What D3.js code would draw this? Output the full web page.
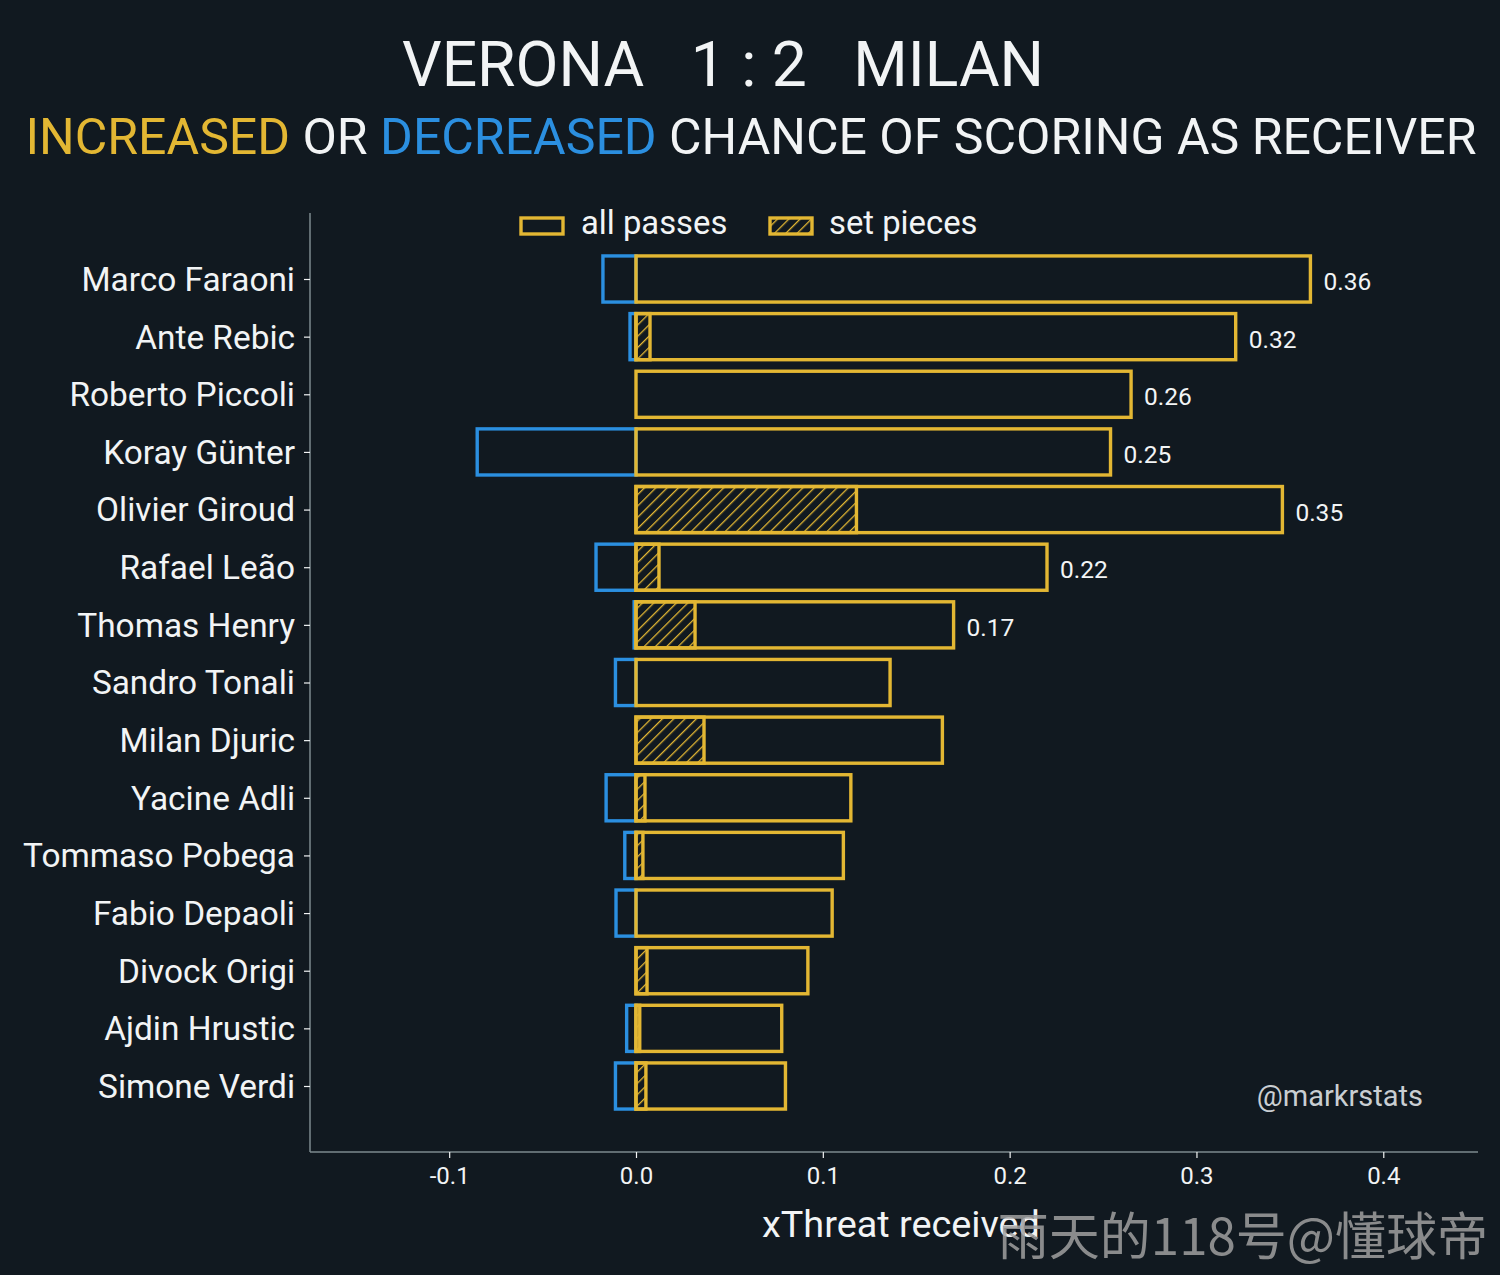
<!DOCTYPE html>
<html>
<head>
<meta charset="utf-8">
<script src="https://cdn.jsdelivr.net/npm/d3@7"></script>
<style>
  html, body { margin: 0; padding: 0; background: #111920; }
  svg { display: block; }
</style>
</head>
<body>
<svg id="chart" width="1500" height="1275"></svg>
<script>
const players = ["Marco Faraoni","Ante Rebic","Roberto Piccoli","Koray Günter","Olivier Giroud","Rafael Leão","Thomas Henry","Sandro Tonali","Milan Djuric","Yacine Adli","Tommaso Pobega","Fabio Depaoli","Divock Origi","Ajdin Hrustic","Simone Verdi"];
const allPasses = [0.361, 0.321, 0.265, 0.254, 0.346, 0.220, 0.170, 0.136, 0.164, 0.115, 0.111, 0.105, 0.092, 0.078, 0.080];
const decreased = [-0.0177, -0.0032, 0, -0.085, 0, -0.0214, -0.001, -0.011, 0, -0.016, -0.006, -0.0107, 0, -0.005, -0.011];
const setPieces = [0, 0.0075, 0, 0, 0.118, 0.0123, 0.0316, 0, 0.0364, 0.0048, 0.0037, 0, 0.0059, 0.002, 0.0053];
const valueLabels = ["0.36","0.32","0.26","0.25","0.35","0.22","0.17","","","","","","","",""];
const xTicks = [-0.1, 0.0, 0.1, 0.2, 0.3, 0.4];

(function(){
const BG = "#111920", YEL = "#e3b733", BLU = "#2b8fe0", SPINE = "#7d8a8e", TXT = "#f2f4f5";
const SW = 3.4;
const svg = d3.select("#chart");
svg.append("rect").attr("width",1500).attr("height",1275).attr("fill",BG);

const defs = svg.append("defs");
const pat = defs.append("pattern").attr("id","hatch").attr("patternUnits","userSpaceOnUse")
  .attr("width",8).attr("height",8).attr("patternTransform","rotate(45)");
pat.append("rect").attr("width",8).attr("height",8).attr("fill",BG);
pat.append("line").attr("x1",0).attr("y1",0).attr("x2",0).attr("y2",8).attr("stroke",YEL).attr("stroke-width",2.6);

const pLeft = 310, pRight = 1478, pTop = 213, pBottom = 1152;
const x = d3.scaleLinear().domain([-0.1745, 0.4507]).range([pLeft, pRight]);
const y = d3.scaleLinear().domain([-1.145, players.length - 1 + 1.145]).range([pTop, pBottom]);
const bh = 0.8 * (y(1) - y(0));
const font = "Roboto, 'Noto Sans', sans-serif";

// title
svg.append("text").attr("x",723).attr("y",86).attr("text-anchor","middle")
  .attr("font-family",font).attr("font-size",62.4).attr("fill",TXT)
  .style("white-space","pre").text("VERONA   1 : 2   MILAN");
const sub = svg.append("text").attr("x",751).attr("y",154).attr("text-anchor","middle")
  .attr("font-family",font).attr("font-size",50).attr("fill",TXT).style("white-space","pre");
sub.append("tspan").attr("fill",YEL).text("INCREASED");
sub.append("tspan").text(" OR ");
sub.append("tspan").attr("fill",BLU).text("DECREASED");
sub.append("tspan").text(" CHANCE OF SCORING AS RECEIVER");

const rows = players.map((p,i)=>({p, i, all: allPasses[i], dec: decreased[i], sp: setPieces[i], lab: valueLabels[i]}));
const g = svg.append("g");
// decreased (blue)
g.selectAll("rect.dec").data(rows.filter(d=>d.dec < 0)).join("rect").attr("class","dec")
  .attr("x",d=>x(d.dec)).attr("width",d=>x(0)-x(d.dec))
  .attr("y",d=>y(d.i)-bh/2).attr("height",bh)
  .attr("fill","none").attr("stroke",BLU).attr("stroke-width",SW);
// set pieces (hatched)
g.selectAll("rect.sp").data(rows.filter(d=>d.sp > 0)).join("rect").attr("class","sp")
  .attr("x",x(0)).attr("width",d=>x(d.sp)-x(0))
  .attr("y",d=>y(d.i)-bh/2).attr("height",bh)
  .attr("fill","url(#hatch)").attr("stroke",YEL).attr("stroke-width",SW);
// all passes (yellow)
g.selectAll("rect.all").data(rows).join("rect").attr("class","all")
  .attr("x",x(0)).attr("width",d=>x(d.all)-x(0))
  .attr("y",d=>y(d.i)-bh/2).attr("height",bh)
  .attr("fill","none").attr("stroke",YEL).attr("stroke-width",SW);
// value labels
g.selectAll("text.val").data(rows.filter(d=>d.lab)).join("text").attr("class","val")
  .attr("x",d=>x(d.all)+13).attr("y",d=>y(d.i)+11)
  .attr("font-family",font).attr("font-size",24.5).attr("fill",TXT).text(d=>d.lab);

// spines
svg.append("line").attr("x1",pLeft).attr("x2",pLeft).attr("y1",pTop).attr("y2",pBottom).attr("stroke",SPINE).attr("stroke-width",1.5);
svg.append("line").attr("x1",pLeft).attr("x2",pRight).attr("y1",pBottom).attr("y2",pBottom).attr("stroke",SPINE).attr("stroke-width",1.5);

// y axis
const yAxis = d3.axisLeft(y).tickValues(d3.range(players.length)).tickFormat(i=>players[i]).tickSize(6).tickPadding(9);
const ya = svg.append("g").attr("transform",`translate(${pLeft},0)`).call(yAxis);
ya.select(".domain").remove();
ya.selectAll(".tick line").attr("stroke",TXT).attr("stroke-width",1.2);
ya.selectAll(".tick text").attr("font-family",font).attr("font-size",33.4).attr("fill",TXT).attr("dy","0.34em");

// x axis
const xAxis = d3.axisBottom(x).tickValues(xTicks).tickFormat(d=>d3.format(".1f")(d).replace("−","-")).tickSize(6).tickPadding(9);
const xa = svg.append("g").attr("transform",`translate(0,${pBottom})`).call(xAxis);
xa.select(".domain").remove();
xa.selectAll(".tick line").attr("stroke",TXT).attr("stroke-width",1.2);
xa.selectAll(".tick text").attr("font-family",font).attr("font-size",24).attr("fill",TXT);

svg.append("text").attr("x",901).attr("y",1237).attr("text-anchor","middle")
  .attr("font-family",font).attr("font-size",37.8).attr("fill",TXT).text("xThreat received");

// legend
const lg = svg.append("g");
lg.append("rect").attr("x",521).attr("y",218).attr("width",42).attr("height",16).attr("fill","none").attr("stroke",YEL).attr("stroke-width",SW);
lg.append("text").attr("x",581).attr("y",234).attr("font-family",font).attr("font-size",32.8).attr("fill",TXT).text("all passes");
lg.append("rect").attr("x",770).attr("y",218).attr("width",42).attr("height",16).attr("fill","url(#hatch)").attr("stroke",YEL).attr("stroke-width",SW);
lg.append("text").attr("x",829).attr("y",234).attr("font-family",font).attr("font-size",32.8).attr("fill",TXT).text("set pieces");

// credit
svg.append("text").attr("x",1423).attr("y",1106).attr("text-anchor","end")
  .attr("font-family",font).attr("font-size",29).attr("fill","#c9ced2").text("@markrstats");

// watermark
svg.append("text").attr("x",1488).attr("y",1255).attr("text-anchor","end")
  .attr("font-family","'Noto Sans CJK SC', sans-serif").attr("font-size",51).attr("fill","#a0a0a0").attr("fill-opacity",0.85)
  .text("雨天的118号@懂球帝");
})();
</script>
</body>
</html>
